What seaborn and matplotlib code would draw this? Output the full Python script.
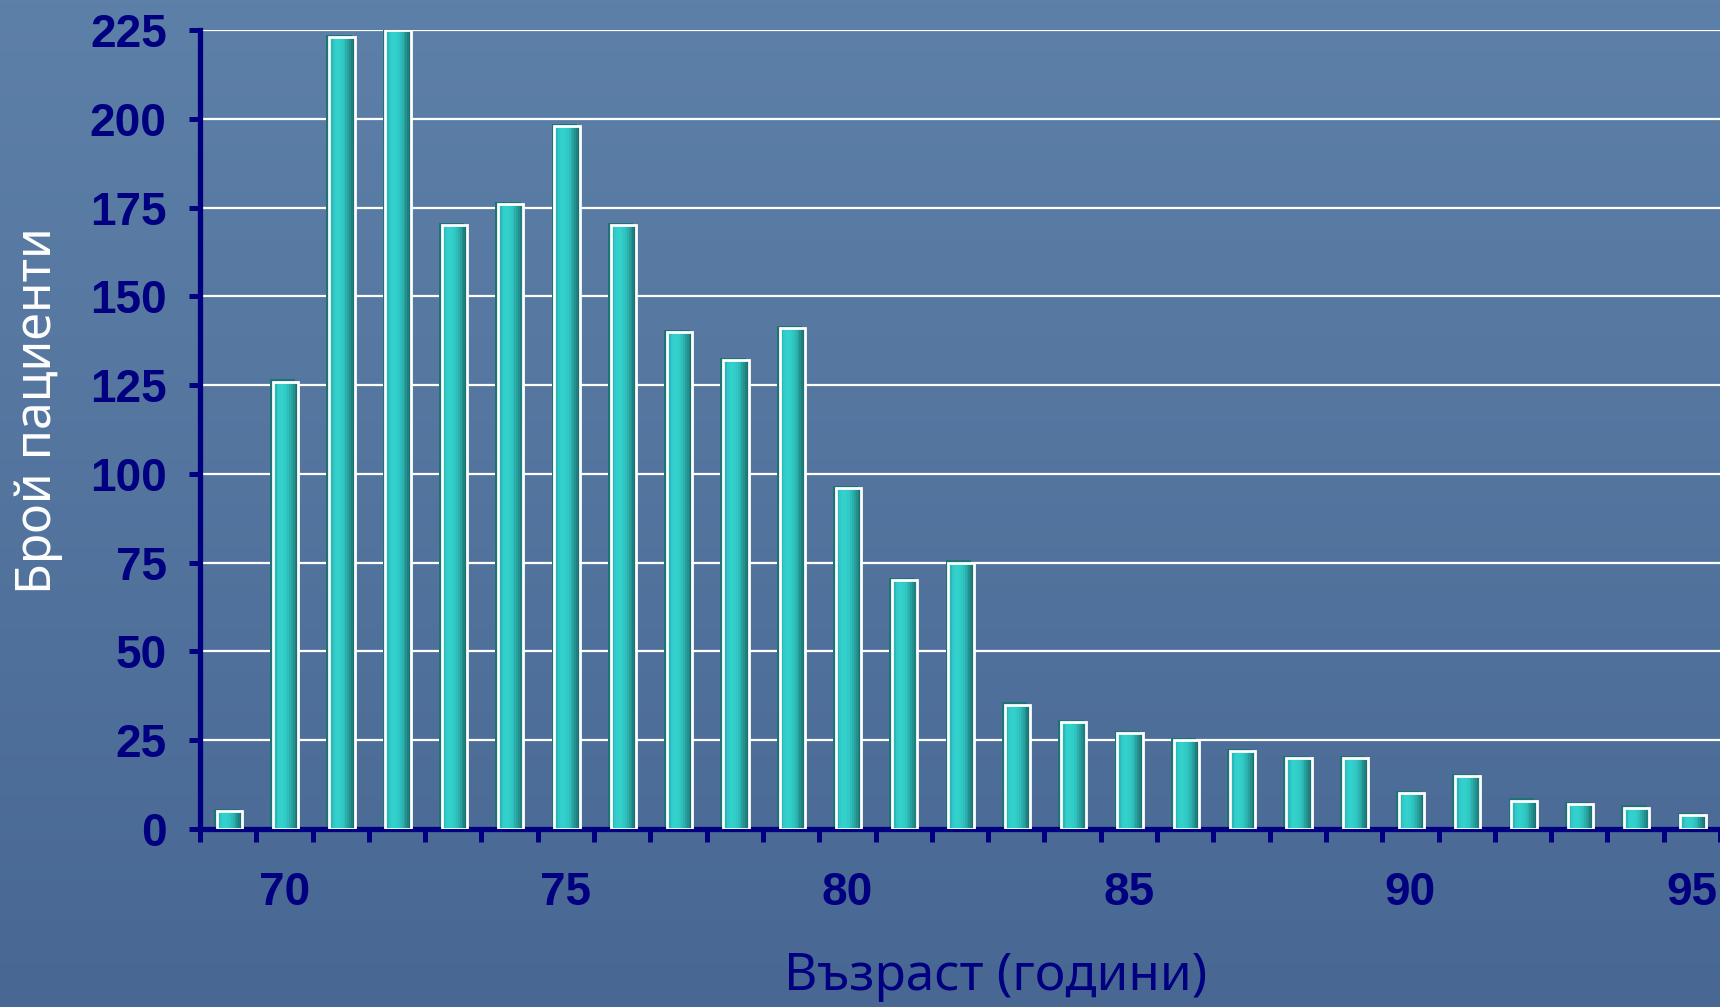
import numpy as np
import pandas as pd
import matplotlib
matplotlib.use("Agg")
import matplotlib.pyplot as plt
import matplotlib.transforms as mtransforms
import seaborn as sns

# Patients by age (years)
ages = list(range(69, 96))
patients = [5, 126, 223, 225, 170, 176, 198, 170, 140, 132, 141, 96, 70, 75,
            35, 30, 27, 25, 22, 20, 20, 10, 15, 8, 7, 6, 4]
age_labels = ["70", "75", "80", "85", "90", "95"]
y_ticks = [0, 25, 50, 75, 100, 125, 150, 175, 200, 225]

NAVY = "#000080"
BAR_W = 0.45
FONT = ["Noto Sans", "DejaVu Sans"]
TICK_FONT = ["Liberation Sans", "DejaVu Sans"]

df = pd.DataFrame({"age": [str(a) for a in ages], "patients": patients})

sns.set_theme(style="white")
plt.rcParams["font.family"] = FONT

fig = plt.figure(figsize=(17.2, 10.07), dpi=100)

# slide background: soft vertical blue gradient
bg = fig.add_axes([0, 0, 1, 1], zorder=-10)
top = np.array([93, 128, 168]) / 255
bot = np.array([72, 104, 147]) / 255
t = np.linspace(0, 1, 256)[:, None, None]
grad = top * (1 - t) + bot * t
bg.imshow(np.repeat(grad, 4, axis=1), aspect="auto", extent=[0, 1, 0, 1])
bg.set_axis_off()

ax = fig.add_axes([200 / 1720, 1 - 829 / 1007, 1520 / 1720, 799 / 1007])
ax.patch.set_alpha(0)

pos = np.arange(len(ages))
vals = np.array(patients, dtype=float)

# depth of each column, nudged up-left
depth = mtransforms.offset_copy(ax.transData, fig=fig, x=-1.6, y=1.6, units="points")
ax.bar(pos + 0.01, vals, width=BAR_W, color="#1d7474", linewidth=0,
       transform=depth, zorder=2)

# cylinder shading across the column face
shade = [(0.12, 0.50, 0.50), (0.17, 0.72, 0.72), (0.19, 0.79, 0.78),
         (0.20, 0.81, 0.80), (0.20, 0.82, 0.80), (0.20, 0.81, 0.79),
         (0.19, 0.80, 0.78), (0.19, 0.78, 0.76), (0.18, 0.74, 0.73),
         (0.17, 0.69, 0.68), (0.15, 0.63, 0.62), (0.14, 0.57, 0.56),
         (0.12, 0.50, 0.50), (0.11, 0.44, 0.44)]
n_strips = len(shade)
sw = BAR_W / n_strips
for k in range(n_strips):
    ax.bar(pos + 0.02 - BAR_W / 2 + (k + 0.5) * sw, vals, width=sw * 1.02,
           color=shade[k], linewidth=0, zorder=3)

# white outline of the front face
sns.barplot(data=df, x="age", y="patients", order=[str(a) for a in ages],
            color="white", fill=False, linewidth=2.0, width=BAR_W,
            ax=ax, zorder=4)
for p in ax.patches[-len(ages):]:
    p.set_x(p.get_x() + 0.02)

ax.set_xlim(-0.5, len(ages) - 0.5)
ax.set_ylim(0, 225)

# horizontal white gridlines
ax.set_yticks(y_ticks)
ax.yaxis.grid(True, color="white", linewidth=1.6, zorder=1)
ax.xaxis.grid(False)
ax.set_axisbelow(True)

# y tick labels
ax.set_yticklabels([str(v) for v in y_ticks])
ax.tick_params(axis="y", direction="out", length=8, width=3.6, color=NAVY,
               pad=16, left=True)

# x: marks between categories, labels every five years
ax.set_xticks(np.arange(-0.5, len(ages), 1.0))
ax.set_xticklabels([])
ax.tick_params(axis="x", which="major", direction="out", length=9, width=3.6,
               color=NAVY, bottom=True)
lab_pos = [ages.index(int(a)) for a in age_labels]
ax.set_xticks(lab_pos, age_labels, minor=True)
ax.tick_params(axis="x", which="minor", length=0, pad=30)

for lbl in ax.get_yticklabels() + ax.get_xticklabels(minor=True):
    lbl.set_family(TICK_FONT)
    lbl.set_fontweight("bold")
    lbl.set_fontsize(33)
    lbl.set_color(NAVY)

for side in ("top", "right"):
    ax.spines[side].set_visible(False)
for side in ("left", "bottom"):
    ax.spines[side].set_color(NAVY)
    ax.spines[side].set_linewidth(3.8)

ax.set_xlabel("")
ax.set_ylabel("")

fig.text(38 / 1720, 1 - 411 / 1007, "Брой пациенти", rotation=90,
         color="white", fontsize=36, ha="center", va="center")
fig.text(996 / 1720, 1 - 976 / 1007, "Възраст (години)", color=NAVY,
         fontsize=37, ha="center", va="center")

fig.savefig("out.png", dpi=100)
